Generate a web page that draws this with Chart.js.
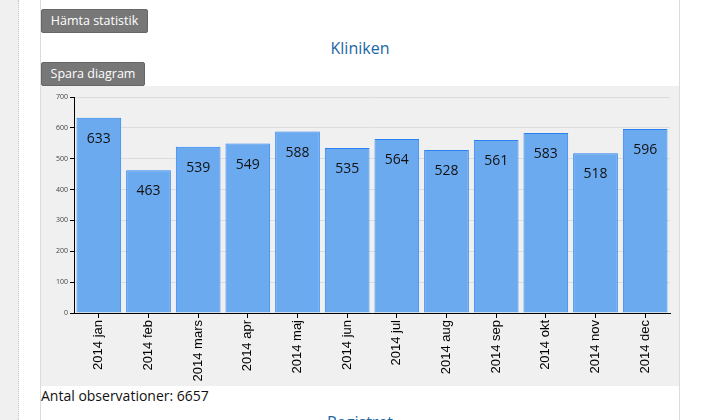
<!DOCTYPE html>
<html>
<head>
<meta charset="utf-8">
<script src="https://cdn.jsdelivr.net/npm/chart.js@4"></script>
<style>
  body { margin: 0; width: 718px; height: 420px; overflow: hidden; background: #fff; font-family: "Open Sans", sans-serif; position: relative; }
  .strip { position: absolute; left: 0; top: 0; width: 18px; height: 420px; background: #f0f0f0; border-right: 1px dotted #c8c8c8; }
  .box { position: absolute; left: 40px; top: 0; width: 638px; height: 420px; border-left: 1px solid #dcdcdc; border-right: 1px solid #dcdcdc; }
  .btn { position: absolute; left: 0; height: 24px; line-height: 22px; padding: 0; text-align: center; white-space: nowrap; background: #777; color: #fff; font-size: 12.5px; border: 1px solid #666; border-radius: 2px; box-sizing: border-box; }
  .title { position: absolute; left: 0; width: 638px; text-align: center; color: #1a67a3; font-size: 16px; }
  .wrap { position: absolute; left: 0; top: 86px; width: 638px; height: 300px; background: #f0f0f0; }
  .note { position: absolute; left: 0; top: 386px; font-size: 14px; color: #111; }
</style>
</head>
<body>
<div class="strip"></div>
<div class="box">
  <div class="btn" style="top:9px;width:107px">Hämta statistik</div>
  <div class="title" style="top:37px">Kliniken</div>
  <div class="btn" style="top:62px;width:104px">Spara diagram</div>
  <div class="wrap"><canvas id="chart" width="638" height="300"></canvas></div>
  <div class="note">Antal observationer: 6657</div>
  <div class="title" style="top:411px">Registret</div>
</div>
<script>
const months = ["2014 jan", "2014 feb", "2014 mars", "2014 apr", "2014 maj", "2014 jun",
  "2014 jul", "2014 aug", "2014 sep", "2014 okt", "2014 nov", "2014 dec"];
const counts = [633, 463, 539, 549, 588, 535, 564, 528, 561, 583, 518, 596];
const yTicks = [0, 100, 200, 300, 400, 500, 600, 700];

// draws the value inside the top of each bar
const valueLabels = {
  id: "valueLabels",
  afterDatasetsDraw(chart) {
    const ctx = chart.ctx;
    const meta = chart.getDatasetMeta(0);
    ctx.save();
    ctx.font = "14px 'Open Sans'";
    ctx.fillStyle = "#111";
    ctx.textAlign = "center";
    ctx.textBaseline = "middle";
    meta.data.forEach((bar, i) => {
      ctx.fillText(counts[i], bar.x, bar.y + 21);
    });
    ctx.restore();
  },
};

new Chart(document.getElementById("chart"), {
  type: "bar",
  data: {
    labels: months,
    datasets: [{
      data: counts,
      backgroundColor: "#6caaf0",
      borderColor: "#2a82f2",
      borderWidth: 1,
      barPercentage: 0.9,
      categoryPercentage: 1,
    }],
  },
  options: {
    responsive: false,
    animation: false,
    layout: { padding: { top: 11, right: 9, left: 0, bottom: 0 } },
    plugins: { legend: { display: false }, tooltip: { enabled: false } },
    scales: {
      x: {
        afterFit: (s) => { s.height = 73; },
        border: { color: "#000", width: 1 },
        grid: { offset: false, drawOnChartArea: false, tickColor: "#000", tickLength: 5 },
        ticks: { minRotation: 90, maxRotation: 90, padding: 2, color: "#000", font: { family: "Liberation Sans", size: 13 } },
      },
      y: {
        min: 0,
        max: 700,
        afterFit: (s) => { s.width = 33; },
        afterBuildTicks: (s) => { s.ticks = yTicks.map((v) => ({ value: v })); },
        border: { color: "#000", width: 1 },
        grid: { color: "#dcdcdc", tickColor: "#000", tickLength: 4 },
        ticks: { padding: 2, color: "#444", font: { family: "Open Sans", size: 7 } },
      },
    },
  },
  plugins: [valueLabels],
});
</script>
</body>
</html>
